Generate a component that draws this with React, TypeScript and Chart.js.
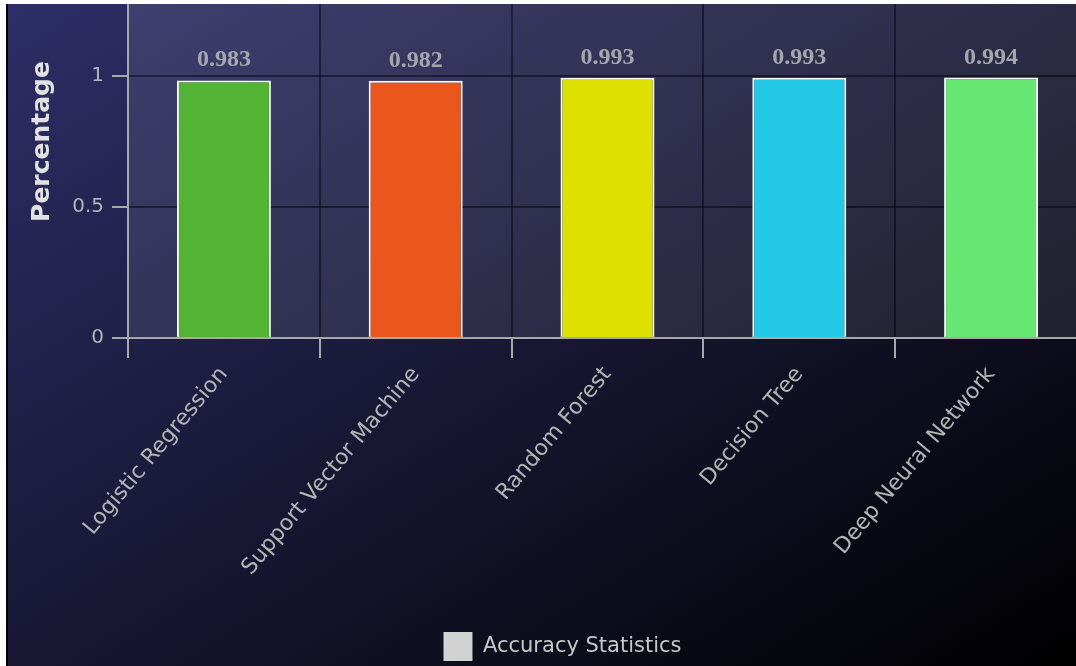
import React, { useEffect, useRef } from "react";
import { Chart, registerables } from "chart.js";

Chart.register(...registerables);

const categories = [
  "Logistic Regression",
  "Support Vector Machine",
  "Random Forest",
  "Decision Tree",
  "Deep Neural Network",
];
const accuracyValues = [0.983, 0.982, 0.993, 0.993, 0.994];
const barColors = ["#52b334", "#eb561d", "#dde000", "#23c9e6", "#66e673"];
const yMin = 0;
const yMax = 1.5;
const yStep = 0.5;
const seriesLabel = "Accuracy Statistics";
const yTitle = "Percentage";

const plotBg = {
  id: "plotBg",
  beforeDraw(chart: any) {
    const { ctx, chartArea } = chart;
    if (!chartArea) return;
    ctx.save();
    ctx.fillStyle = "rgba(255,255,255,0.09)";
    ctx.fillRect(chartArea.left, chartArea.top, chartArea.right - chartArea.left, chartArea.bottom - chartArea.top);
    ctx.restore();
  },
};

const valueLabels = {
  id: "valueLabels",
  afterDatasetsDraw(chart: any) {
    const { ctx } = chart;
    const meta = chart.getDatasetMeta(0);
    const data = chart.data.datasets[0].data as number[];
    ctx.save();
    ctx.font = 'bold 24px "Liberation Serif", "Times New Roman", serif';
    ctx.fillStyle = "#a6a6ae";
    ctx.textAlign = "center";
    ctx.textBaseline = "alphabetic";
    meta.data.forEach((bar: any, i: number) => {
      ctx.fillText(data[i].toFixed(3), bar.x, bar.y - 14);
    });
    ctx.restore();
  },
};

// chart area bottom in canvas coordinates
const AREA_BOTTOM = 393;

export default function App() {
  const canvasRef = useRef<HTMLCanvasElement>(null);

  useEffect(() => {
    if (!canvasRef.current) return;
    const chart = new Chart(canvasRef.current, {
      type: "bar",
      data: {
        labels: categories,
        datasets: [
          {
            label: seriesLabel,
            data: accuracyValues,
            backgroundColor: barColors,
            borderColor: "#ffffff",
            borderWidth: 2,
            barPercentage: 0.49,
            categoryPercentage: 1,
          },
        ],
      },
      options: {
        animation: false,
        responsive: false,
        maintainAspectRatio: false,
        layout: { padding: { left: 30, right: 0, top: 0, bottom: 0 } },
        plugins: {
          tooltip: { enabled: false },
          legend: {
            position: "bottom",
            labels: {
              boxWidth: 29,
              boxHeight: 29,
              padding: 0,
              color: "#c8c8c8",
              font: { family: '"DejaVu Sans", sans-serif', size: 21 },
              generateLabels: () => [
                {
                  text: seriesLabel,
                  fillStyle: "#d3d3d3",
                  strokeStyle: "#d3d3d3",
                  lineWidth: 0,
                  hidden: false,
                  datasetIndex: 0,
                  fontColor: "#c8c8c8",
                } as any,
              ],
            },
          },
        },
        scales: {
          x: {
            grid: {
              color: "rgba(0,0,0,0.45)",
              lineWidth: 2,
              tickColor: "#a8a8a8",
              tickLength: 20,
              offset: true,
            },
            border: { color: "#a8a8a8", width: 2 },
            ticks: {
              color: "#b4b4b4",
              font: { family: '"DejaVu Sans", sans-serif', size: 22 },
              minRotation: 50,
              maxRotation: 50,
              padding: 4,
              autoSkip: false,
            },
            afterFit: (scale: any) => {
              const ch = scale.chart;
              const legendH = ch.legend ? ch.legend.height : 0;
              scale.height = ch.height - AREA_BOTTOM - legendH;
              scale.paddingLeft = 0;
              scale.paddingRight = 0;
            },
          },
          y: {
            min: yMin,
            max: yMax,
            grid: {
              color: "rgba(0,0,0,0.45)",
              lineWidth: 2,
              tickColor: "#a8a8a8",
              tickLength: 16,
            },
            border: { color: "#a8a8a8", width: 2 },
            ticks: {
              color: "#b4b4b4",
              font: { family: '"DejaVu Sans", sans-serif', size: 20 },
              padding: 8,
              stepSize: yStep,
              callback: (v: any) => String(Number(v)),
            },
            afterFit: (scale: any) => {
              scale.width = 90;
              scale.paddingTop = 0;
              scale.paddingBottom = 0;
            },
            title: {
              display: true,
              text: yTitle,
              color: "#e2e2e2",
              font: { family: '"DejaVu Sans", sans-serif', size: 25, weight: "bold" },
              padding: { top: -11, bottom: 0 },
            },
          },
        },
      },
      plugins: [plotBg, valueLabels],
    });
    return () => chart.destroy();
  }, []);

  return (
    <div
      style={{
        position: "absolute",
        left: 6,
        top: 4,
        width: 1070,
        height: 662,
        boxSizing: "border-box",
        borderLeft: "2px solid #000",
        background: "linear-gradient(to bottom right, #2e2e68 0%, #15152f 55%, #000000 100%)",
        overflow: "hidden",
      }}
    >
      <canvas
        ref={canvasRef}
        width={1079}
        height={726}
        style={{ position: "absolute", left: 0, top: -59, display: "block", width: 1079, height: 726 }}
      />
    </div>
  );
}
